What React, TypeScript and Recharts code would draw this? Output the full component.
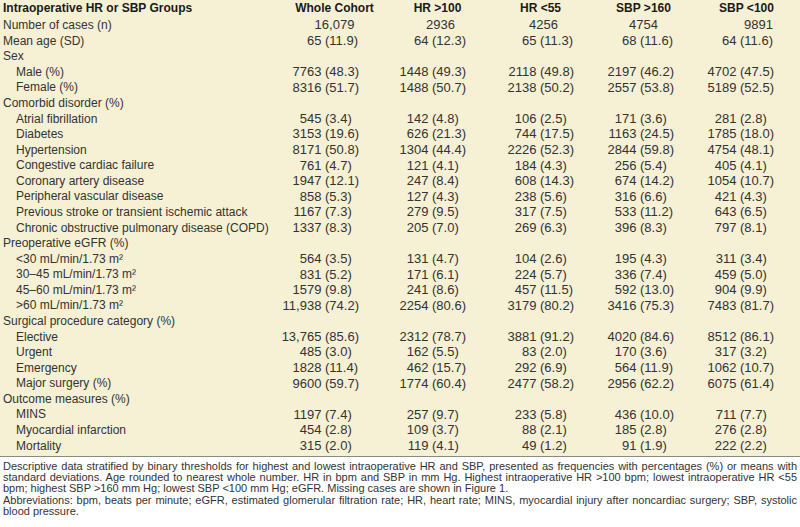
import { ScatterChart, Scatter, XAxis, YAxis } from 'recharts';

document.body.style.margin = '0';

const groups = ['Whole Cohort', 'HR >100', 'HR <55', 'SBP >160', 'SBP <100'];

const rowLabels = [
  'Number of cases (n)',
  'Mean age (SD)',
  'Sex',
  'Male (%)',
  'Female (%)',
  'Comorbid disorder (%)',
  'Atrial fibrillation',
  'Diabetes',
  'Hypertension',
  'Congestive cardiac failure',
  'Coronary artery disease',
  'Peripheral vascular disease',
  'Previous stroke or transient ischemic attack',
  'Chronic obstructive pulmonary disease (COPD)',
  'Preoperative eGFR (%)',
  '<30 mL/min/1.73 m²',
  '30–45 mL/min/1.73 m²',
  '45–60 mL/min/1.73 m²',
  '>60 mL/min/1.73 m²',
  'Surgical procedure category (%)',
  'Elective',
  'Urgent',
  'Emergency',
  'Major surgery (%)',
  'Outcome measures (%)',
  'MINS',
  'Myocardial infarction',
  'Mortality',
];

// rows that are not indented
const topRows = [0, 1, 2, 5, 14, 19, 24];

const wholeCohort = ['16,079', '65 (11.9)', '', '7763 (48.3)', '8316 (51.7)', '', '545 (3.4)', '3153 (19.6)', '8171 (50.8)', '761 (4.7)', '1947 (12.1)', '858 (5.3)', '1167 (7.3)', '1337 (8.3)', '', '564 (3.5)', '831 (5.2)', '1579 (9.8)', '11,938 (74.2)', '', '13,765 (85.6)', '485 (3.0)', '1828 (11.4)', '9600 (59.7)', '', '1197 (7.4)', '454 (2.8)', '315 (2.0)'];
const hrHigh = ['2936', '64 (12.3)', '', '1448 (49.3)', '1488 (50.7)', '', '142 (4.8)', '626 (21.3)', '1304 (44.4)', '121 (4.1)', '247 (8.4)', '127 (4.3)', '279 (9.5)', '205 (7.0)', '', '131 (4.7)', '171 (6.1)', '241 (8.6)', '2254 (80.6)', '', '2312 (78.7)', '162 (5.5)', '462 (15.7)', '1774 (60.4)', '', '257 (9.7)', '109 (3.7)', '119 (4.1)'];
const hrLow = ['4256', '65 (11.3)', '', '2118 (49.8)', '2138 (50.2)', '', '106 (2.5)', '744 (17.5)', '2226 (52.3)', '184 (4.3)', '608 (14.3)', '238 (5.6)', '317 (7.5)', '269 (6.3)', '', '104 (2.6)', '224 (5.7)', '457 (11.5)', '3179 (80.2)', '', '3881 (91.2)', '83 (2.0)', '292 (6.9)', '2477 (58.2)', '', '233 (5.8)', '88 (2.1)', '49 (1.2)'];
const sbpHigh = ['4754', '68 (11.6)', '', '2197 (46.2)', '2557 (53.8)', '', '171 (3.6)', '1163 (24.5)', '2844 (59.8)', '256 (5.4)', '674 (14.2)', '316 (6.6)', '533 (11.2)', '396 (8.3)', '', '195 (4.3)', '336 (7.4)', '592 (13.0)', '3416 (75.3)', '', '4020 (84.6)', '170 (3.6)', '564 (11.9)', '2956 (62.2)', '', '436 (10.0)', '185 (2.8)', '91 (1.9)'];
const sbpLow = ['9891', '64 (11.6)', '', '4702 (47.5)', '5189 (52.5)', '', '281 (2.8)', '1785 (18.0)', '4754 (48.1)', '405 (4.1)', '1054 (10.7)', '421 (4.3)', '643 (6.5)', '797 (8.1)', '', '311 (3.4)', '459 (5.0)', '904 (9.9)', '7483 (81.7)', '', '8512 (86.1)', '317 (3.2)', '1062 (10.7)', '6075 (61.4)', '', '711 (7.7)', '276 (2.8)', '222 (2.2)'];

const columns = [wholeCohort, hrHigh, hrLow, sbpHigh, sbpLow];

const footnote = [
  'Descriptive data stratified by binary thresholds for highest and lowest intraoperative HR and SBP, presented as frequencies with percentages (%) or means with',
  'standard deviations. Age rounded to nearest whole number. HR in bpm and SBP in mm Hg. Highest intraoperative HR >100 bpm; lowest intraoperative HR <55',
  'bpm; highest SBP >160 mm Hg; lowest SBP <100 mm Hg; eGFR. Missing cases are shown in Figure 1.',
  'Abbreviations: bpm, beats per minute; eGFR, estimated glomerular filtration rate; HR, heart rate; MINS, myocardial injury after noncardiac surgery; SBP, systolic',
  'blood pressure.',
];
const justifiedLines = [0, 1, 3];

const FONT = '"Liberation Sans", Arial, sans-serif';
const TEXT = '#333';
const LABEL_FS = 12;
const NUM_FS = 13;
// where the "(" sits relative to the column centre, and nudge for bare counts
const parenShift = [-9.5, -5.5, -0.5, -3.5, -6.5];
const plainShift = [0, 3, 3, 0, 12];

const CellText = (props: any) => {
  const { cx, cy, payload } = props;
  const text: string = payload.text;
  if (!text) return <g />;
  const c = payload.col;
  const i = text.indexOf(' (');
  if (i < 0) {
    return (
      <text x={cx + plainShift[c]} y={cy} dy="0.36em" textAnchor="middle" fontSize={NUM_FS} fill={TEXT} fontFamily={FONT}>
        {text}
      </text>
    );
  }
  const anchor = cx + parenShift[c];
  return (
    <g>
      <text x={anchor - 3.6} y={cy} dy="0.36em" textAnchor="end" fontSize={NUM_FS} fill={TEXT} fontFamily={FONT}>
        {text.slice(0, i)}
      </text>
      <text x={anchor} y={cy} dy="0.36em" textAnchor="start" fontSize={NUM_FS} fill={TEXT} fontFamily={FONT}>
        {text.slice(i + 1)}
      </text>
    </g>
  );
};

const RowTick = (props: any) => {
  const { y, payload } = props;
  const idx = payload.value as number;
  const indent = topRows.includes(idx) ? 3 : 16;
  return (
    <text x={indent} y={y} dy="0.36em" textAnchor="start" fontSize={LABEL_FS} fill={TEXT} fontFamily={FONT}>
      {rowLabels[idx]}
    </text>
  );
};

const GroupTick = (props: any) => {
  const { x, payload } = props;
  return (
    <text x={x} y={8} dy="0.36em" textAnchor="middle" fontSize={12} fontWeight="bold" fill="#1a1a1a" fontFamily={FONT}>
      {groups[payload.value as number]}
    </text>
  );
};

export default function App() {
  return (
    <div style={{ width: 800, height: 527, position: 'relative', background: '#fff', fontFamily: FONT }}>
      <div style={{ position: 'absolute', left: 0, top: 0, width: 800, height: 456, background: '#f6f0d4', borderBottom: '1.5px solid #8c8a80' }}>
        <ScatterChart width={800} height={456} margin={{ top: 0, right: 2, bottom: 3, left: 0 }}>
          <XAxis
            type="number"
            dataKey="col"
            orientation="top"
            domain={[-0.5, 4.5]}
            ticks={[0, 1, 2, 3, 4]}
            interval={0}
            height={17}
            axisLine={false}
            tickLine={false}
            tick={<GroupTick />}
          />
          <YAxis
            type="number"
            dataKey="row"
            reversed
            domain={[-0.5, 27.5]}
            ticks={rowLabels.map((_, i) => i)}
            interval={0}
            width={283}
            axisLine={false}
            tickLine={false}
            tick={<RowTick />}
          />
          {columns.map((col, c) => (
            <Scatter
              key={groups[c]}
              data={col.map((text, row) => ({ col: c, row, text }))}
              shape={<CellText />}
              isAnimationActive={false}
            />
          ))}
        </ScatterChart>
        <div style={{ position: 'absolute', left: 3, top: 0, lineHeight: '16px', fontSize: 12, fontWeight: 'bold', color: '#1a1a1a' }}>
          Intraoperative HR or SBP Groups
        </div>
      </div>
      <div style={{ position: 'absolute', left: 3, top: 461, width: 794, fontSize: 11, lineHeight: '11.2px', color: TEXT }}>
        {footnote.map((line, i) => (
          <div
            key={i}
            style={{
              whiteSpace: 'nowrap',
              textAlign: justifiedLines.includes(i) ? 'justify' : 'left',
              textAlignLast: justifiedLines.includes(i) ? 'justify' : 'left',
            }}
          >
            {line}
          </div>
        ))}
      </div>
    </div>
  );
}
